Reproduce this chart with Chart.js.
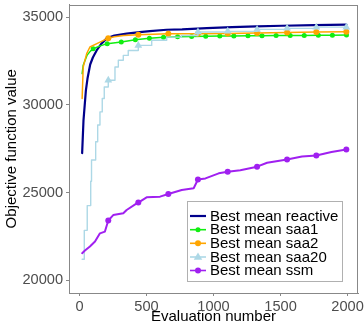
<!DOCTYPE html>
<html>
<head>
<meta charset="utf-8">
<script src="https://cdn.jsdelivr.net/npm/chart.js@4.4.1/dist/chart.umd.min.js"></script>
<style>
  html, body { margin: 0; padding: 0; background: #fff; }
  #wrap { width: 364px; height: 326px; }
</style>
</head>
<body>
<div id="wrap"><canvas id="chart" width="364" height="326"></canvas></div>
<script>
// Best objective value vs evaluations, five strategies

const X_TICKS = [0, 500, 1000, 1500, 2000];
const Y_TICKS = [20000, 25000, 30000, 35000];

const SERIES_NAMES = ['Best mean reactive', 'Best mean saa1', 'Best mean saa2', 'Best mean saa20', 'Best mean ssm'];

// reactive (no markers)
const reactiveEval = [20, 30, 48, 60, 80, 100, 128, 160, 203, 260, 352, 450, 526, 650, 766, 950, 1138, 1320, 1511, 1750, 1991];
const reactiveVal  = [27250, 29100, 30830, 31500, 32300, 32700, 33100, 33450, 33790, 33950, 34060, 34150, 34200, 34280, 34300, 34370, 34430, 34470, 34510, 34540, 34570];

// saa1
const saa1Eval = [20, 28, 56, 80, 102, 150, 207, 312, 417, 522, 627, 732, 837, 942, 1047, 1152, 1257, 1362, 1467, 1572, 1677, 1782, 1887, 1992];
const saa1Val  = [31780, 32260, 32820, 33050, 33200, 33350, 33490, 33580, 33716, 33800, 33860, 33880, 33900, 33910, 33920, 33930, 33940, 33945, 33950, 33955, 33960, 33965, 33970, 33978];
const saa1Marks = [102, 207, 312, 417, 522, 627, 732, 837, 942, 1047, 1152, 1257, 1362, 1467, 1572, 1677, 1782, 1887, 1992];

// saa2
const saa2Eval = [20, 28, 54, 78, 153, 215, 260, 330, 439, 663, 884, 1106, 1325, 1549, 1767, 1991];
const saa2Val  = [30360, 32160, 32920, 33300, 33580, 33800, 33880, 33960, 34000, 34050, 34060, 34070, 34090, 34130, 34160, 34170];

// saa20 (step line)
const saa20Eval = [20, 36, 58, 84, 90, 121, 136, 153, 170, 185, 215, 265, 290, 327, 364, 439, 539, 651, 760, 884, 1106, 1325, 1549, 1767, 1991];
const saa20Val  = [21200, 22850, 24260, 25650, 26860, 27900, 28850, 29600, 30360, 31020, 31400, 32160, 32540, 32820, 33100, 33390, 33680, 33860, 33950, 34150, 34190, 34300, 34360, 34430, 34430];

// ssm
const ssmEval = [20, 41, 78, 116, 153, 190, 215, 252, 327, 352, 427, 439, 501, 601, 663, 763, 852, 884, 940, 1039, 1106, 1200, 1325, 1400, 1549, 1660, 1767, 1880, 1991];
const ssmVal  = [21550, 21700, 21930, 22210, 22680, 22780, 23410, 23720, 23820, 24010, 24390, 24430, 24730, 24770, 24920, 25150, 25250, 25750, 25810, 26100, 26190, 26280, 26480, 26700, 26890, 27060, 27120, 27310, 27460];

// evaluations where the markers of saa2, saa20 and ssm sit
const markEvals = [215, 439, 663, 884, 1106, 1325, 1549, 1767, 1991];

const FONT = "'Liberation Sans', Arial, Helvetica, sans-serif";
const COLORS = ['#00008B', '#11EE11', '#FFA500', '#ADD8E6', '#A020F0'];
const SHAPES = [null, 'circle', 'circle', 'triangle', 'circle'];
const RADII = [0, 2.5, 3, 4.5, 3];

function toPoints(xs, ys) {
  return xs.map((x, i) => ({ x: x, y: ys[i] }));
}

function markerRadius(marks, r) {
  return function(ctx) {
    if (!ctx.raw) return 0;
    return marks.indexOf(ctx.raw.x) >= 0 ? r : 0;
  };
}

const datasets = [
  {
    label: SERIES_NAMES[0],
    data: toPoints(reactiveEval, reactiveVal),
    borderColor: COLORS[0], backgroundColor: COLORS[0],
    borderWidth: 2.2, pointRadius: 0, order: 5
  },
  {
    label: SERIES_NAMES[1],
    data: toPoints(saa1Eval, saa1Val),
    borderColor: COLORS[1], backgroundColor: COLORS[1],
    borderWidth: 1.5, pointRadius: markerRadius(saa1Marks, RADII[1]),
    pointBorderWidth: 0, order: 4
  },
  {
    label: SERIES_NAMES[2],
    data: toPoints(saa2Eval, saa2Val),
    borderColor: COLORS[2], backgroundColor: COLORS[2],
    borderWidth: 1.5, pointRadius: markerRadius(markEvals, RADII[2]),
    pointBorderWidth: 0, order: 3
  },
  {
    label: SERIES_NAMES[3],
    data: toPoints(saa20Eval, saa20Val),
    borderColor: COLORS[3], backgroundColor: COLORS[3],
    borderWidth: 1.4, stepped: true, pointStyle: 'triangle',
    pointRadius: markerRadius(markEvals, RADII[3]),
    pointBorderWidth: 0, order: 2
  },
  {
    label: SERIES_NAMES[4],
    data: toPoints(ssmEval, ssmVal),
    borderColor: COLORS[4], backgroundColor: COLORS[4],
    borderWidth: 2, pointRadius: markerRadius(markEvals, RADII[4]),
    pointBorderWidth: 0, order: 1
  }
];

// panel border on all four sides
const panelBorder = {
  id: 'panelBorder',
  afterDatasetsDraw(chart) {
    const a = chart.chartArea;
    const c = chart.ctx;
    c.save();
    c.strokeStyle = '#888888';
    c.lineWidth = 1;
    c.strokeRect(Math.round(a.left) + 0.5, Math.round(a.top) + 0.5,
                 Math.round(a.right - a.left) - 1, Math.round(a.bottom - a.top) - 1);
    c.restore();
  }
};

// ggplot-style legend box inside the panel
const boxLegend = {
  id: 'boxLegend',
  afterDraw(chart) {
    const c = chart.ctx;
    const bx = 187.5, by = 201.5, bw = 155, bh = 80;
    c.save();
    c.fillStyle = '#ffffff';
    c.fillRect(bx, by, bw, bh);
    c.strokeStyle = '#b0b0b0';
    c.lineWidth = 1;
    c.strokeRect(bx, by, bw, bh);
    c.font = '15px ' + FONT;
    c.textBaseline = 'middle';
    c.textAlign = 'left';
    const rowY = [216, 229.7, 243.3, 257, 270.5];
    SERIES_NAMES.forEach((name, i) => {
      const y = rowY[i];
      c.strokeStyle = COLORS[i];
      c.fillStyle = COLORS[i];
      c.lineWidth = i === 0 ? 2.2 : 1.6;
      c.beginPath();
      c.moveTo(190, y);
      c.lineTo(206, y);
      c.stroke();
      if (SHAPES[i] === 'circle') {
        c.beginPath();
        c.arc(198, y, RADII[i], 0, Math.PI * 2);
        c.fill();
      } else if (SHAPES[i] === 'triangle') {
        const r = RADII[i];
        c.beginPath();
        c.moveTo(198, y - r);
        c.lineTo(198 + r * 0.95, y + r * 0.6);
        c.lineTo(198 - r * 0.95, y + r * 0.6);
        c.closePath();
        c.fill();
      }
      c.fillStyle = '#000000';
      c.fillText(name, 210, y + 0.5);
    });
    c.restore();
  }
};

new Chart(document.getElementById('chart'), {
  type: 'line',
  data: { datasets: datasets },
  plugins: [panelBorder, boxLegend],
  options: {
    responsive: false,
    animation: false,
    events: [],
    layout: { padding: { left: 0, right: 6, top: 4, bottom: 0 } },
    plugins: {
      legend: { display: false },
      tooltip: { enabled: false }
    },
    elements: {
      line: { tension: 0, borderCapStyle: 'round', borderJoinStyle: 'round' }
    },
    scales: {
      x: {
        type: 'linear',
        min: -78,
        max: 2078,
        afterBuildTicks: s => { s.ticks = X_TICKS.map(v => ({ value: v })); },
        afterFit: s => { s.height = 33; s.paddingLeft = 0; s.paddingRight = 0; },
        ticks: {
          color: '#4D4D4D',
          font: { family: FONT, size: 14.6 },
          padding: 2,
          maxRotation: 0,
          autoSkip: false,
          callback: v => String(v)
        },
        grid: { display: true, drawOnChartArea: false, tickLength: 3, color: '#888888' },
        border: { display: true, color: '#888888' },
        title: {
          display: true,
          text: 'Evaluation number',
          color: '#000000',
          font: { family: FONT, size: 15 },
          padding: { top: 0, bottom: 0 }
        }
      },
      y: {
        type: 'linear',
        min: 19280,
        max: 35720,
        afterBuildTicks: s => { s.ticks = Y_TICKS.map(v => ({ value: v })); },
        afterFit: s => { s.width = 69; s.paddingTop = 0; s.paddingBottom = 0; },
        ticks: {
          color: '#4D4D4D',
          font: { family: FONT, size: 14.6 },
          padding: 3,
          autoSkip: false,
          callback: v => String(v)
        },
        grid: { display: true, drawOnChartArea: false, tickLength: 3, color: '#888888' },
        border: { display: true, color: '#888888' },
        title: {
          display: true,
          text: 'Objective function value',
          color: '#000000',
          font: { family: FONT, size: 15 },
          padding: { top: 3, bottom: 0 }
        }
      }
    }
  }
});
</script>
</body>
</html>
